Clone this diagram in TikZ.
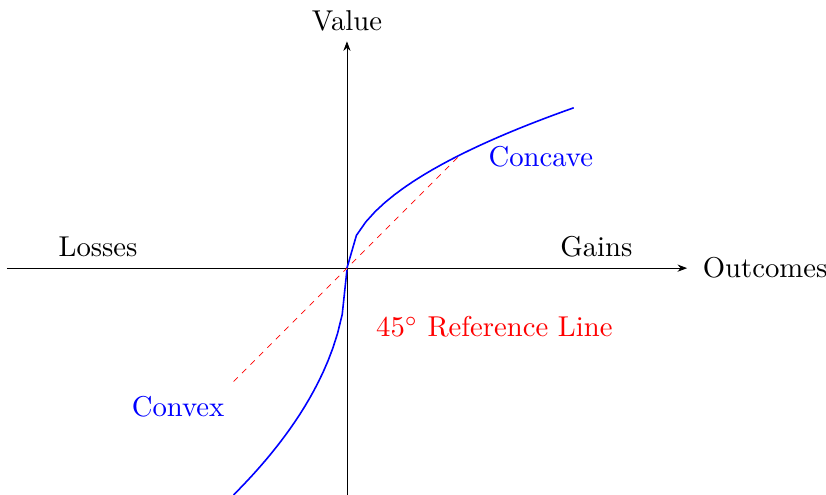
\documentclass[tikz,border=0pt]{standalone}
\usetikzlibrary{arrows.meta}
\begin{document}
\begin{tikzpicture}[every node/.style={scale=1.44}]
\useasboundingbox (-6.12,-4.0) rectangle (8.45,4.73);
\tikzset{axis/.style={-Stealth}, curve/.style={blue,thick}, ref/.style={red,dashed}}
\coordinate (xl) at (-6,0);
\coordinate (xr) at (6,0);
\coordinate (yb) at (0,-4);
\coordinate (yt) at (0,4);
\coordinate (r1) at (-2,-2);
\coordinate (r2) at (2,2);
\draw[axis] (xl) -- (xr) node[right,inner sep=5.3pt] (outc) {Outcomes};
\draw[axis] (yb) -- (yt);
\node (val) at (0,4.36) {Value};
\draw[ref] (r1) -- (r2);
\draw[curve] plot[domain=0:4,samples=25] (\x,{sqrt(2*\x)});
\draw[curve] plot[domain=-2:0,samples=25] (\x,{-2*sqrt(-2*\x)});
\node (gains) at (4.4,0.38) {Gains};
\node (losses) at (-4.39,0.38) {Losses};
\node[blue] (concave) at (3.42,1.96) {Concave};
\node[blue] (convex) at (-2.98,-2.45) {Convex};
\node[red] (reftext) at (2.6,-1.04) {$45^\circ$ Reference Line};
\end{tikzpicture}
\end{document}
